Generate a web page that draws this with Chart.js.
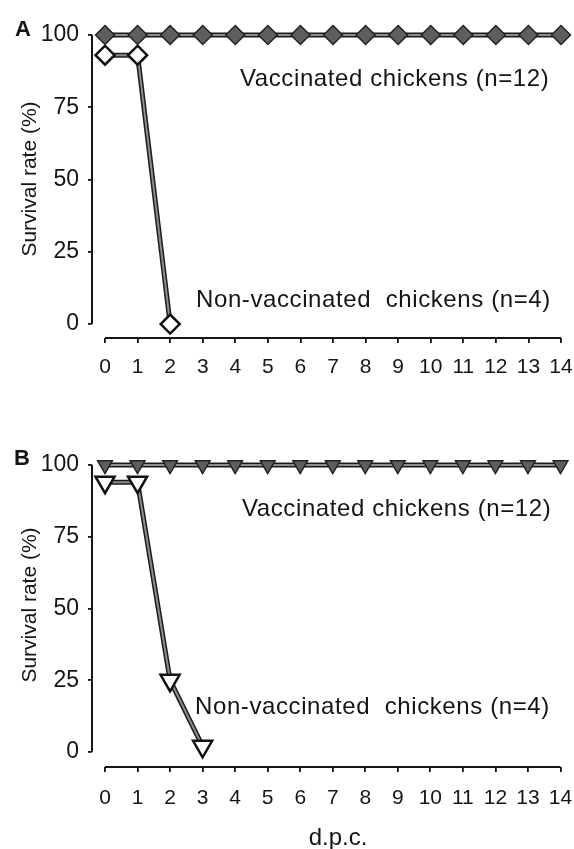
<!DOCTYPE html>
<html>
<head>
<meta charset="utf-8">
<script src="https://cdn.jsdelivr.net/npm/chart.js@4.4.1/dist/chart.umd.min.js"></script>
<style>
  html, body { margin: 0; padding: 0; background: #fff; }
  #wrap { position: relative; width: 574px; height: 849px; }
  canvas { position: absolute; left: 0; }
  #chartA { top: 0; }
  #chartB { top: 420px; }
</style>
</head>
<body>
<div id="wrap">
  <canvas id="chartA" width="574" height="410" style="width:574px;height:410px"></canvas>
  <canvas id="chartB" width="574" height="429" style="width:574px;height:429px"></canvas>
</div>
<script>
// ===== DATA =====
const days      = [0, 1, 2, 3, 4, 5, 6, 7, 8, 9, 10, 11, 12, 13, 14];
const yTicks    = [0, 25, 50, 75, 100];
const vaccA     = [100, 100, 100, 100, 100, 100, 100, 100, 100, 100, 100, 100, 100, 100, 100];
const nonVaccA  = [93, 93, 0];
const vaccB     = [100, 100, 100, 100, 100, 100, 100, 100, 100, 100, 100, 100, 100, 100, 100];
const nonVaccB  = [94, 94, 25, 2];
const txtVacc    = "Vaccinated chickens (n=12)";
const txtNonVacc = "Non-vaccinated  chickens (n=4)";
const txtYTitle  = "Survival rate (%)";
const txtXTitle  = "d.p.c.";

const FONT = "'Liberation Sans', Arial, sans-serif";
const INK  = "#151515";

function pts(vals) { return vals.map((v, i) => ({ x: days[i], y: v })); }

// ===== PLUGINS =====
// dark outline under each series line (gives the "double line" look)
const outlinePlugin = {
  id: "outline",
  beforeDatasetDraw(chart, args) {
    const ctx = chart.ctx, p = args.meta.data;
    ctx.save();
    ctx.lineWidth = 5;
    ctx.strokeStyle = "#1c1c1c";
    ctx.lineJoin = "round";
    ctx.beginPath();
    p.forEach((e, i) => i ? ctx.lineTo(e.x, e.y) : ctx.moveTo(e.x, e.y));
    ctx.stroke();
    ctx.restore();
  }
};

// detached axis lines
const axesPlugin = {
  id: "axesLines",
  beforeDatasetsDraw(chart) {
    const { ctx, chartArea, scales: { x, y } } = chart;
    ctx.save();
    ctx.strokeStyle = INK;
    ctx.lineWidth = 2;
    ctx.beginPath();
    ctx.moveTo(chartArea.left, y.getPixelForValue(yTicks[yTicks.length - 1]));
    ctx.lineTo(chartArea.left, y.getPixelForValue(yTicks[0]));
    ctx.moveTo(x.getPixelForValue(days[0]), chartArea.bottom);
    ctx.lineTo(x.getPixelForValue(days[days.length - 1]), chartArea.bottom);
    ctx.stroke();
    ctx.restore();
  }
};

function textPlugin(t) {
  return {
    id: "texts",
    afterDraw(chart) {
      const ctx = chart.ctx;
      ctx.save();
      ctx.fillStyle = INK;
      // panel letter
      ctx.font = "bold 22px " + FONT;
      ctx.textAlign = "center";
      ctx.textBaseline = "alphabetic";
      ctx.fillText(t.letter, t.letterX, t.letterY + 0.36 * 22);
      // y title
      ctx.save();
      ctx.translate(28, t.yTitleY);
      ctx.rotate(-Math.PI / 2);
      ctx.font = "21px " + FONT;
      ctx.textAlign = "center";
      ctx.fillText(txtYTitle, 0, 0.36 * 21);
      ctx.restore();
      // annotations
      ctx.font = "24px " + FONT;
      ctx.letterSpacing = "0.6px";
      ctx.textAlign = "left";
      ctx.fillText(txtVacc, t.vaccX, t.vaccY + 0.36 * 24);
      ctx.fillText(txtNonVacc, t.nonX, t.nonY + 0.36 * 24);
      if (t.xTitle) {
        ctx.font = "24px " + FONT;
        ctx.letterSpacing = "0px";
        ctx.textAlign = "center";
        ctx.fillText(txtXTitle, 338, t.xTitleY);
      }
      ctx.restore();
    }
  };
}

// ===== CHART FACTORY =====
function makeChart(id, o) {
  const canvas = document.getElementById(id);
  return new Chart(canvas, {
    type: "line",
    data: {
      datasets: [
        {
          data: pts(o.vacc), clip: false,
          borderColor: "#8c8c8c", borderWidth: 2,
          pointStyle: o.style, pointRotation: o.rot, pointRadius: o.rFill,
          pointBackgroundColor: "#5e5e5e", pointBorderColor: "#222", pointBorderWidth: 1.5
        },
        {
          data: pts(o.non), clip: false,
          borderColor: "#8c8c8c", borderWidth: 2,
          pointStyle: o.style, pointRotation: o.rot, pointRadius: o.rOpen,
          pointBackgroundColor: "#fff", pointBorderColor: "#111", pointBorderWidth: 2.5
        }
      ]
    },
    options: {
      responsive: false,
      animation: false,
      events: [],
      layout: { padding: { top: o.padTop, right: 13, left: 0, bottom: 0 } },
      elements: { line: { tension: 0 } },
      plugins: { legend: { display: false }, tooltip: { enabled: false } },
      scales: {
        x: {
          type: "linear", min: -0.4, max: days[days.length - 1],
          border: { display: false },
          grid: { drawOnChartArea: false, drawTicks: true, tickLength: 5, color: INK, lineWidth: 1.8 },
          ticks: { font: { family: FONT, size: 21 }, color: INK, padding: o.xPad, autoSkip: false, maxRotation: 0 },
          afterBuildTicks: s => { s.ticks = days.map(v => ({ value: v })); },
          afterFit: s => { s.height = o.xAxisH; s.paddingLeft = 0; s.paddingRight = 0; }
        },
        y: {
          type: "linear", min: o.yMin, max: 100,
          border: { display: false },
          grid: { drawOnChartArea: false, drawTicks: true, tickLength: 4, color: INK, lineWidth: 1.8 },
          ticks: { font: { family: FONT, size: 23 }, color: INK, padding: 9 },
          afterBuildTicks: s => { s.ticks = yTicks.map(v => ({ value: v })); },
          afterFit: s => { s.width = 92; s.paddingTop = 0; s.paddingBottom = 0; }
        }
      }
    },
    plugins: [axesPlugin, outlinePlugin, textPlugin(o.text)]
  });
}

// ===== PANEL A =====
makeChart("chartA", {
  vacc: vaccA, non: nonVaccA, style: "rectRot", rot: 0, rFill: 9.5, rOpen: 9.5,
  padTop: 35, xAxisH: 72, xPad: 12, yMin: -4.84,
  text: { letter: "A", letterX: 23, letterY: 28, yTitleY: 179,
          vaccX: 240, vaccY: 77, nonX: 196, nonY: 298, xTitle: false }
});

// ===== PANEL B =====
makeChart("chartB", {
  vacc: vaccB, non: nonVaccB, style: "triangle", rot: 180, rFill: 8.5, rOpen: 11,
  padTop: 45, xAxisH: 82, xPad: 14, yMin: -5.2,
  text: { letter: "B", letterX: 22, letterY: 37, yTitleY: 185,
          vaccX: 242, vaccY: 87, nonX: 195, nonY: 285, xTitle: true, xTitleY: 425 }
});
</script>
</body>
</html>
